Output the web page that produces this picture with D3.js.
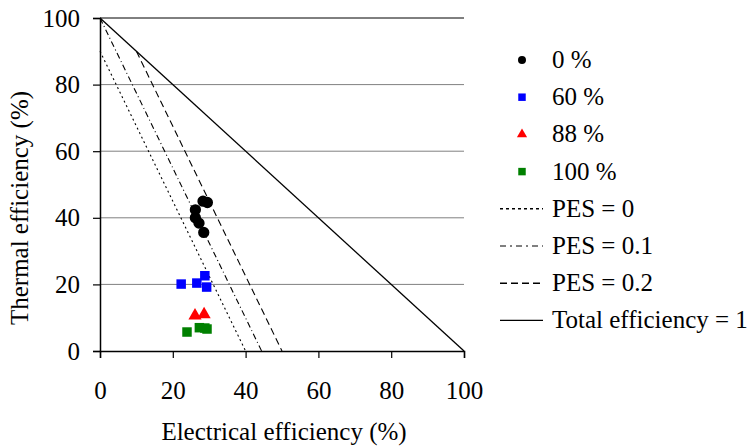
<!DOCTYPE html>
<html>
<head>
<meta charset="utf-8">
<script src="https://cdn.jsdelivr.net/npm/d3@7"></script>
<style>
  body { margin: 0; background: #fff; }
  text { font-family: "Liberation Serif", "DejaVu Serif", serif; fill: #000; }
</style>
</head>
<body>
<script>
//series data: [electrical efficiency, thermal efficiency] in %
var series0 = [[28.3, 45.0], [29.5, 44.6], [26.2, 42.4], [26.2, 40.0], [27.2, 38.4], [28.5, 35.6]];
var series60 = [[22.3, 20.1], [26.6, 20.4], [28.8, 22.6], [29.3, 19.2]];
var series88 = [[26.1, 10.6], [28.6, 11.0]];
var series100 = [[23.9, 5.7], [27.3, 7.0], [28.8, 6.9], [29.4, 6.6]];
//reference lines
var pes0 = [[0, 90], [40, 0]];
var pes01 = [[0, 100], [44.4, 0]];
var pes02 = [[10, 90], [50, 0]];
var totalLine = [[0, 100], [100, 0]];
var ticks = [0, 20, 40, 60, 80, 100];

var legendItems = [
  {label: "0 %", type: "circle", color: "#000"},
  {label: "60 %", type: "square", color: "#0000ff"},
  {label: "88 %", type: "triangle", color: "#ff0000"},
  {label: "100 %", type: "square", color: "#008000"},
  {label: "PES = 0", type: "line", dash: "3,3", w: 1.6},
  {label: "PES = 0.1", type: "line", dash: "6,4,2,4", w: 1},
  {label: "PES = 0.2", type: "line", dash: "7,4", w: 1.6},
  {label: "Total efficiency = 1", type: "line", dash: null, w: 1.2}
];

var width = 753, height = 447;
var svg = d3.select("body").append("svg")
    .attr("width", width)
    .attr("height", height);

var x = d3.scaleLinear().domain([0, 100]).range([100, 464]);
var y = d3.scaleLinear().domain([0, 100]).range([351, 18]);

//gridlines
svg.append("g")
    .selectAll("line")
    .data([20, 40, 60, 80])
    .enter()
    .append("line")
    .attr("x1", x(0)).attr("x2", x(100))
    .attr("y1", function(d){ return y(d); })
    .attr("y2", function(d){ return y(d); })
    .attr("stroke", "#808080")
    .attr("stroke-width", 1);

//top border
svg.append("line")
    .attr("x1", x(0)).attr("x2", x(100))
    .attr("y1", y(100)).attr("y2", y(100))
    .attr("stroke", "#000").attr("stroke-width", 1);

//axes
var xAxis = svg.append("g")
    .attr("transform", "translate(0," + y(0) + ")")
    .call(d3.axisBottom(x).tickValues(ticks).tickSize(7).tickPadding(23));
var yAxis = svg.append("g")
    .attr("transform", "translate(" + x(0) + ",0)")
    .call(d3.axisLeft(y).tickValues(ticks).tickSize(7).tickPadding(13));
[xAxis, yAxis].forEach(function(a){
  a.select(".domain").attr("stroke", "#000").attr("stroke-width", 1.5);
  a.selectAll(".tick line").attr("stroke", "#000").attr("stroke-width", 1.2);
  a.selectAll(".tick text")
      .style("font-family", "Liberation Serif, serif")
      .style("font-size", "25px")
      .attr("fill", "#000");
});

//axis titles
svg.append("text")
    .attr("x", 284).attr("y", 440)
    .attr("text-anchor", "middle")
    .style("font-size", "25px")
    .text("Electrical efficiency (%)");
svg.append("text")
    .attr("transform", "translate(28,208) rotate(-90)")
    .attr("text-anchor", "middle")
    .style("font-size", "25px")
    .text("Thermal efficiency (%)");

//reference lines
var line = d3.line()
    .x(function(d){ return x(d[0]); })
    .y(function(d){ return y(d[1]); });
[[pes0, "2,3"], [pes01, "6,3,1,3"], [pes02, "7,4"], [totalLine, null]].forEach(function(p){
  svg.append("path")
      .datum(p[0])
      .attr("d", line)
      .attr("fill", "none")
      .attr("stroke", "#000")
      .attr("stroke-width", p[1] ? 1.1 : 1.3)
      .attr("stroke-dasharray", p[1]);
});

//markers
var sym = {
  circle: d3.symbol().type(d3.symbolCircle).size(100),
  square: d3.symbol().type(d3.symbolSquare).size(90),
  triangle: d3.symbol().type(d3.symbolTriangle).size(75)
};
function drawSeries(data, type, color){
  svg.append("g")
      .selectAll("path")
      .data(data)
      .enter()
      .append("path")
      .attr("d", sym[type])
      .attr("transform", function(d){ return "translate(" + x(d[0]) + "," + y(d[1]) + ")"; })
      .attr("fill", color);
}
drawSeries(series0, "circle", "#000");
drawSeries(series60, "square", "#0000ff");
drawSeries(series88, "triangle", "#ff0000");
drawSeries(series100, "square", "#008000");

//legend
var legendSym = {
  circle: d3.symbol().type(d3.symbolCircle).size(50),
  square: d3.symbol().type(d3.symbolSquare).size(56),
  triangle: d3.symbol().type(d3.symbolTriangle).size(45)
};
var legend = svg.append("g");
var rows = legend.selectAll("g")
    .data(legendItems)
    .enter()
    .append("g")
    .attr("transform", function(d, i){ return "translate(0," + (60 + i * 37.2) + ")"; });
rows.each(function(d){
  var g = d3.select(this);
  if (d.type == "line") {
    g.append("line")
        .attr("x1", 500).attr("x2", 543)
        .attr("y1", 0).attr("y2", 0)
        .attr("stroke", "#000")
        .attr("stroke-width", d.w)
        .attr("stroke-dasharray", d.dash);
  } else {
    g.append("path")
        .attr("d", legendSym[d.type])
        .attr("transform", "translate(522,0)")
        .attr("fill", d.color);
  }
  g.append("text")
      .attr("x", 552)
      .attr("y", 8)
      .style("font-size", "25px")
      .text(d.label);
});
</script>
</body>
</html>
